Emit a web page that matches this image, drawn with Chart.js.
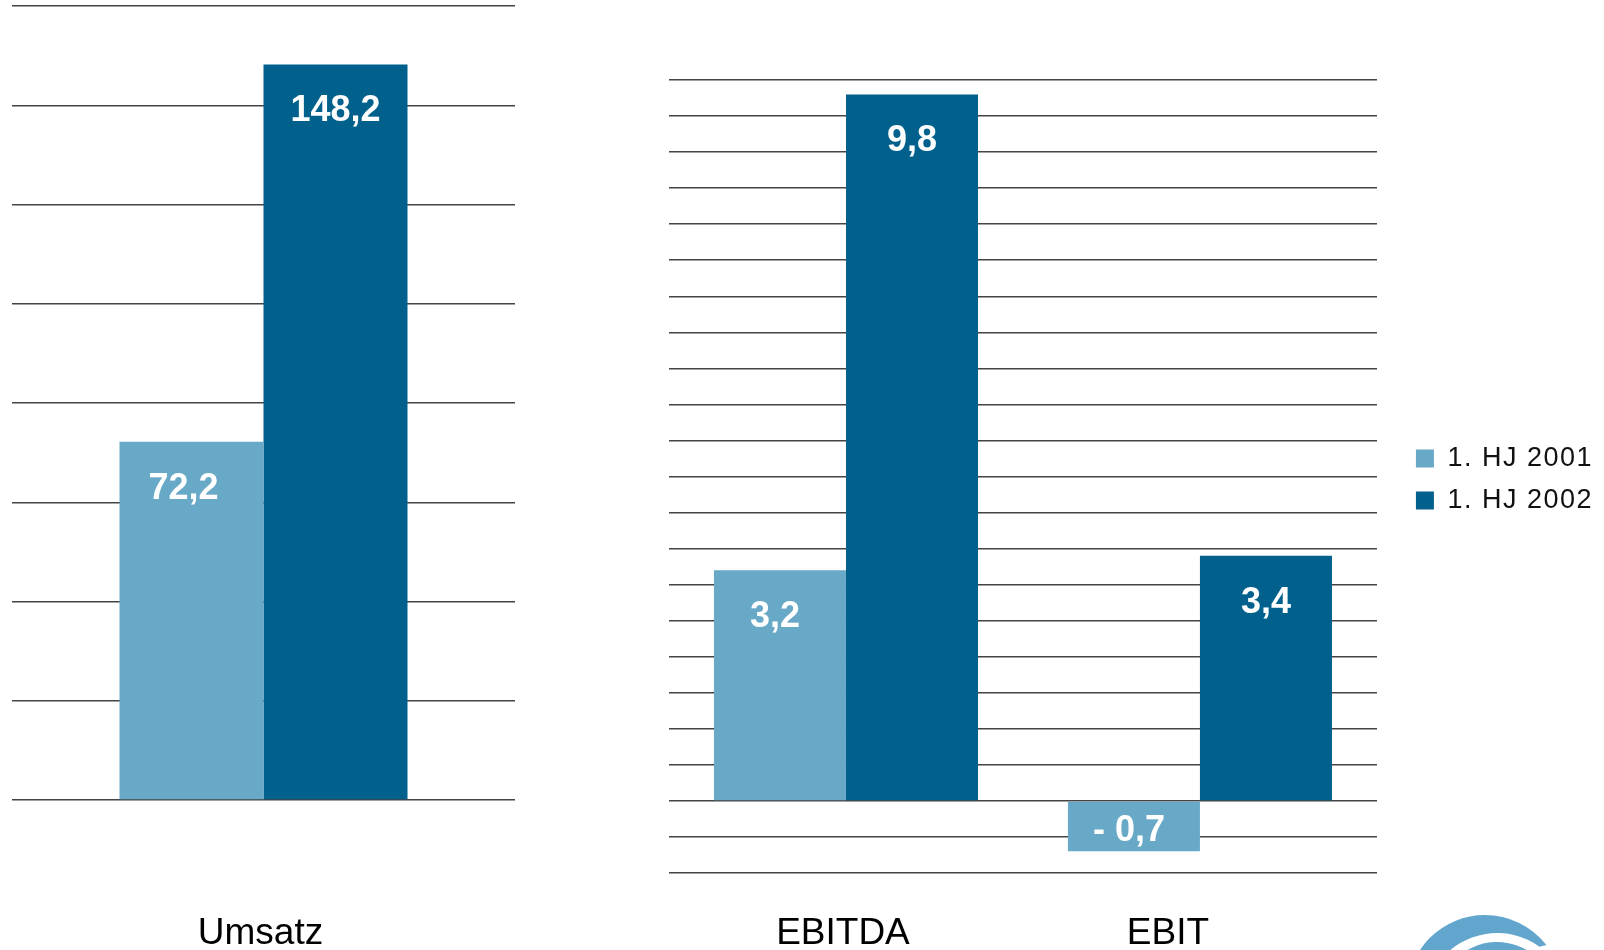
<!DOCTYPE html>
<html lang="de">
<head>
<meta charset="utf-8">
<title>Umsatz, EBITDA, EBIT – 1. HJ 2001 / 1. HJ 2002</title>
<script src="https://cdn.jsdelivr.net/npm/chart.js@4.4.1/dist/chart.umd.min.js"></script>
<style>
    html, body { margin: 0; padding: 0; background: #fff; }
    body { width: 1604px; height: 950px; position: relative; overflow: hidden; }
    .chart-box { position: absolute; top: 0; height: 950px; }
    #umsatzBox { left: 0; width: 540px; }
    #ergebnisBox { left: 600px; width: 1010px; }
</style>
</head>
<body>
<div class="chart-box" id="umsatzBox"><canvas id="umsatzChart"></canvas></div>
<div class="chart-box" id="ergebnisBox"><canvas id="ergebnisChart"></canvas></div>

<script>
// ===== DATA =====
const seriesNames = ['1. HJ 2001', '1. HJ 2002'];

const umsatzLabels = ['Umsatz'];
const umsatz2001 = [72.2];
const umsatz2002 = [148.2];
const umsatzScale = [0, 160, 20];      // min, max, step

const ergebnisLabels = ['EBITDA', 'EBIT'];
const ergebnis2001 = [3.2, -0.7];
const ergebnis2002 = [9.8, 3.4];
const ergebnisScale = [-1, 10, 0.5];   // min, max, step

// ===== STYLE =====
const LIGHT = '#69a9c8';
const DARK = '#02618c';
const GRID = '#444444';
const FONT = '"Liberation Sans", Arial, Helvetica, sans-serif';

Chart.defaults.font.family = FONT;

function formatDe(v) {
    const s = Math.abs(v).toFixed(1).replace('.', ',');
    return v < 0 ? '- ' + s : s;
}

// white value labels inside the bars
const valueLabels = {
    id: 'valueLabels',
    afterDatasetsDraw(chart, args, opts) {
        const ctx = chart.ctx;
        ctx.save();
        ctx.fillStyle = '#ffffff';
        ctx.font = 'bold 36px ' + FONT;
        ctx.textAlign = 'center';
        ctx.textBaseline = 'middle';
        chart.data.datasets.forEach((ds, i) => {
            const dx = opts.dx[i] || 0;
            chart.getDatasetMeta(i).data.forEach((bar, j) => {
                const v = ds.data[j];
                const y = v >= 0 ? bar.y + opts.inset : (bar.y + bar.base) / 2 + 5;
                ctx.fillText(formatDe(v), bar.x + dx, y);
            });
        });
        ctx.restore();
    }
};

// category names under the charts
const categoryLabels = {
    id: 'categoryLabels',
    afterDraw(chart, args, opts) {
        const ctx = chart.ctx;
        const x = chart.scales.x;
        ctx.save();
        ctx.fillStyle = '#000000';
        ctx.font = '37px ' + FONT;
        ctx.textAlign = 'center';
        ctx.textBaseline = 'alphabetic';
        chart.data.labels.forEach((lbl, i) => {
            ctx.fillText(lbl, x.getPixelForValue(i) + (opts.shift[i] || 0), opts.baseline);
        });
        ctx.restore();
    }
};

// a little extra letter spacing for the legend text (measured and drawn)
const legendSpacing = {
    id: 'legendSpacing',
    beforeLayout(chart, args, opts) { chart.ctx.letterSpacing = opts.spacing; },
    afterLayout(chart) { chart.ctx.letterSpacing = '0px'; },
    beforeDraw(chart, args, opts) { chart.ctx.letterSpacing = opts.spacing; },
    beforeDatasetsDraw(chart) { chart.ctx.letterSpacing = '0px'; }
};

// partial company logo swoosh, bottom right corner
const logoSwoosh = {
    id: 'logoSwoosh',
    afterDraw(chart) {
        const ctx = chart.ctx;
        const ox = chart.canvas.parentNode.offsetLeft;
        const deg = Math.PI / 180;
        ctx.save();
        ctx.fillStyle = '#63a6cd';
        // outer crescent
        ctx.beginPath();
        ctx.arc(1485 - ox, 993, 78, 180 * deg, 322 * deg);
        ctx.arc(1497 - ox, 1005, 72, 306 * deg, 180 * deg, true);
        ctx.closePath();
        ctx.fill();
        // inner small crescent
        ctx.beginPath();
        ctx.arc(1497 - ox, 1000, 58, 200 * deg, 330 * deg);
        ctx.arc(1505 - ox, 1012, 60, 318 * deg, 212 * deg, true);
        ctx.closePath();
        ctx.fill();
        ctx.restore();
    }
};

function yAxis(range, position, width) {
    return {
        position: position,
        min: range[0],
        max: range[1],
        ticks: { stepSize: range[2], display: false },
        grid: { color: GRID, lineWidth: 1.5, drawTicks: false },
        border: { display: false },
        afterFit(scale) { scale.width = width; }
    };
}

// ===== UMSATZ CHART =====
new Chart(document.getElementById('umsatzChart'), {
    type: 'bar',
    data: {
        labels: umsatzLabels,
        datasets: [
            { label: seriesNames[0], data: umsatz2001, backgroundColor: LIGHT },
            { label: seriesNames[1], data: umsatz2002, backgroundColor: DARK }
        ]
    },
    options: {
        responsive: true,
        maintainAspectRatio: false,
        animation: false,
        events: [],
        layout: { padding: { left: 12, right: 25, top: 6, bottom: 150 } },
        datasets: { bar: { categoryPercentage: 0.5726, barPercentage: 1, borderWidth: 0 } },
        scales: {
            x: { display: false },
            y: yAxis(umsatzScale, 'left', 0)
        },
        plugins: {
            legend: { display: false },
            tooltip: { enabled: false },
            valueLabels: { inset: 47, dx: [-8, 0] },
            categoryLabels: { baseline: 944, shift: [-3] }
        }
    },
    plugins: [valueLabels, categoryLabels]
});

// ===== EBITDA / EBIT CHART =====
new Chart(document.getElementById('ergebnisChart'), {
    type: 'bar',
    data: {
        labels: ergebnisLabels,
        datasets: [
            { label: seriesNames[0], data: ergebnis2001, backgroundColor: LIGHT },
            { label: seriesNames[1], data: ergebnis2002, backgroundColor: DARK }
        ]
    },
    options: {
        responsive: true,
        maintainAspectRatio: false,
        animation: false,
        events: [],
        layout: { padding: { left: 69, right: 7, top: 80, bottom: 71 } },
        datasets: { bar: { categoryPercentage: 0.746, barPercentage: 1, borderWidth: 0 } },
        scales: {
            x: {
                ticks: { display: false },
                grid: { display: false },
                border: { display: false },
                afterFit(scale) { scale.height = 6; }
            },
            y: yAxis(ergebnisScale, 'right', 24)
        },
        plugins: {
            legend: {
                position: 'right',
                align: 'center',
                labels: {
                    boxWidth: 18,
                    boxHeight: 18,
                    padding: 15,
                    color: '#111111',
                    font: { size: 27, family: FONT }
                }
            },
            tooltip: { enabled: false },
            legendSpacing: { spacing: '1.5px' },
            valueLabels: { inset: 47, dx: [-5, 0] },
            categoryLabels: { baseline: 944, shift: [-3, -32] }
        }
    },
    plugins: [legendSpacing, valueLabels, categoryLabels, logoSwoosh]
});
</script>
</body>
</html>
